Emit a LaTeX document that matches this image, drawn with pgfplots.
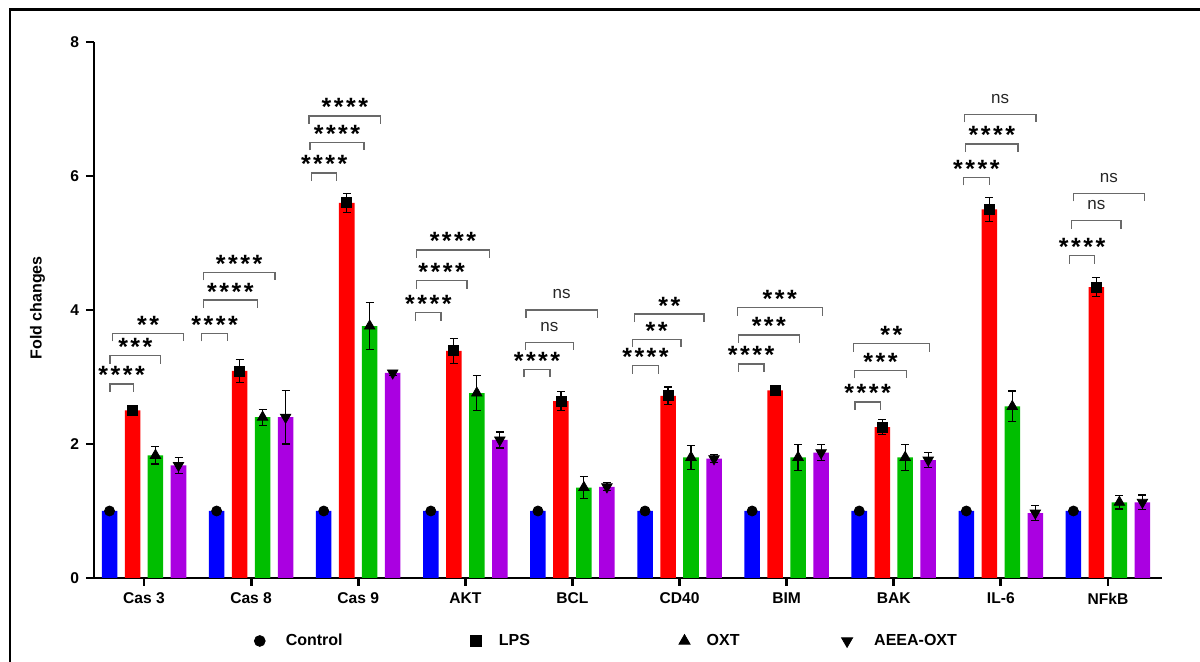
\documentclass[border=0pt]{standalone}
\usepackage{pgfplots}
\pgfplotsset{compat=1.18}
\usepackage{pgfplotstable}
\usepackage{fontspec}
\setmainfont{Liberation Sans}
\newfontfamily\starfamily[LetterSpace=10]{Liberation Sans}

\definecolor{cCtrl}{RGB}{0,0,255}
\definecolor{cLPS}{RGB}{255,0,0}
\definecolor{cOXT}{RGB}{0,190,0}
\definecolor{cAEEA}{RGB}{170,0,225}
\definecolor{brk}{RGB}{105,105,105}

% fold change (mean and error) per gene and group
\pgfplotstableread{
x ctrl lps  lpse oxt  oxte aeea aeeae
0 1    2.50 0.03 1.83 0.13 1.68 0.12
1 1    3.09 0.17 2.40 0.12 2.40 0.40
2 1    5.60 0.14 3.76 0.35 3.06 0.04
3 1    3.39 0.19 2.76 0.26 2.06 0.12
4 1    2.64 0.14 1.35 0.16 1.36 0.06
5 1    2.72 0.13 1.80 0.18 1.78 0.06
6 1    2.80 0.05 1.80 0.19 1.87 0.12
7 1    2.25 0.11 1.80 0.19 1.76 0.11
8 1    5.50 0.18 2.56 0.23 0.97 0.11
9 1    4.34 0.14 1.13 0.10 1.13 0.11
}\foldtab

\newcommand{\starfont}{\starfamily\fontsize{12.5}{13}\selectfont\bfseries}
\newcommand{\nsfont}{\fontsize{8.5}{9}\selectfont}

% significance bracket: from, to, height, stars
\newcommand{\sig}[4]{%
  \draw[brk, line width=0.6pt] (axis cs:#1,#3) ++(0pt,-4pt) -- (axis cs:#1,#3) -- (axis cs:#2,#3) -- ++(0pt,-4pt);
  \path (axis cs:#1,#3) -- node[midway, anchor=base, yshift=0pt, font=\starfont, inner sep=0pt] {#4} (axis cs:#2,#3);
}
% non-significant bracket: from, to, height
\newcommand{\nsb}[3]{%
  \draw[brk, line width=0.6pt] (axis cs:#1,#3) ++(0pt,-4pt) -- (axis cs:#1,#3) -- (axis cs:#2,#3) -- ++(0pt,-4pt);
  \path (axis cs:#1,#3) -- node[midway, anchor=base, yshift=5.6pt, font=\nsfont, inner sep=0pt, text=black!85] {ns} (axis cs:#2,#3);
}

\begin{document}
\begin{tikzpicture}
\begin{axis}[
  scale only axis, width=534pt, height=268pt,
  xmin=-0.467, xmax=9.505, ymin=0, ymax=8,
  axis x line*=bottom, axis y line*=left,
  axis line style={line width=1.4pt, black},
  xtick={0,...,9},
  xticklabels={Cas 3, Cas 8, Cas 9, AKT, BCL, CD40, BIM, BAK, IL-6, NFkB},
  ytick={0,2,4,6,8},
  tick style={line width=1.4pt, black},
  major tick length=4pt, tick align=outside,
  ticklabel style={font=\fontsize{7.8}{9}\selectfont\bfseries},
  /pgf/number format/assume math mode=true,
  ylabel={Fold changes},
  ylabel style={font=\fontsize{8}{10}\selectfont\bfseries, at={(axis description cs:-0.0529,0.504)}, anchor=center},
  clip=false,
  legend columns=4,
  legend cell align=left,
  legend image code/.code={\draw[#1] plot coordinates {(0pt,0pt)};},
  legend style={draw=none, fill=none, at={(axis description cs:0.1498,-0.1175)}, anchor=west,
    inner sep=0pt, column sep=0pt, nodes={inner sep=0pt}, font=\fontsize{8}{10}\selectfont\bfseries},
]

\addplot[ybar, bar width=0.145, bar shift=0pt, fill=cCtrl, draw=none, forget plot,
  mark=*, mark size=2.5pt, mark options={black, fill=black}]
  table[x expr=\thisrow{x}-0.322, y=ctrl] {\foldtab};

\addplot[ybar, bar width=0.145, bar shift=0pt, fill=cLPS, draw=none, forget plot,
  mark=square*, mark size=2.5pt, mark options={black, fill=black},
  error bars/.cd, y dir=both, y explicit,
  error bar style={black, line width=0.6pt},
  error mark options={black, rotate=90, mark size=2pt, line width=0.6pt}]
  table[x expr=\thisrow{x}-0.107, y=lps, y error=lpse] {\foldtab};

\addplot[ybar, bar width=0.145, bar shift=0pt, fill=cOXT, draw=none, forget plot,
  mark=triangle*, mark size=3pt, mark options={black, fill=black},
  error bars/.cd, y dir=both, y explicit,
  error bar style={black, line width=0.6pt},
  error mark options={black, rotate=90, mark size=2pt, line width=0.6pt}]
  table[x expr=\thisrow{x}+0.107, y=oxt, y error=oxte] {\foldtab};

\addplot[ybar, bar width=0.145, bar shift=0pt, fill=cAEEA, draw=none, forget plot,
  mark=triangle*, mark size=3pt, mark options={black, fill=black, rotate=180},
  error bars/.cd, y dir=both, y explicit,
  error bar style={black, line width=0.6pt},
  error mark options={black, rotate=90, mark size=2pt, line width=0.6pt}]
  table[x expr=\thisrow{x}+0.322, y=aeea, y error=aeeae] {\foldtab};

\addlegendimage{only marks, mark=*, mark size=2.7pt, black}
\addlegendentry{\hspace*{10.3pt}Control\hspace*{64pt}}
\addlegendimage{only marks, mark=square*, mark size=2.6pt, black}
\addlegendentry{\hspace*{8.9pt}LPS\hspace*{74.5pt}}
\addlegendimage{only marks, mark=triangle*, mark size=3.2pt, black}
\addlegendentry{\hspace*{8.3pt}OXT\hspace*{51pt}}
\addlegendimage{only marks, mark=triangle*, mark size=3.2pt, black, mark options={rotate=180}}
\addlegendentry{\hspace*{10.8pt}AEEA-OXT}

% Cas 3
\sig{-0.317}{-0.100}{2.896}{****}
\sig{-0.317}{0.156}{3.318}{***}
\sig{-0.292}{0.367}{3.652}{**}
% Cas 8
\sig{0.539}{0.781}{3.652}{****}
\sig{0.554}{1.058}{4.149}{****}
\sig{0.554}{1.223}{4.563}{****}
% Cas 9
\sig{1.566}{1.799}{6.045}{****}
\sig{1.550}{2.054}{6.503}{****}
\sig{1.541}{2.210}{6.896}{****}
% AKT
\sig{2.537}{2.773}{3.960}{****}
\sig{2.542}{3.016}{4.437}{****}
\sig{2.542}{3.228}{4.896}{****}
% BCL
\sig{3.548}{3.791}{3.115}{****}
\nsb{3.560}{4.008}{3.518}
\nsb{3.567}{4.233}{4.000}
% CD40
\sig{4.563}{4.802}{3.169}{****}
\sig{4.559}{5.014}{3.563}{**}
\sig{4.582}{5.229}{3.940}{**}
% BIM
\sig{5.549}{5.789}{3.194}{****}
\sig{5.549}{6.119}{3.627}{***}
\sig{5.540}{6.333}{4.034}{***}
% BAK
\sig{6.639}{6.875}{2.627}{****}
\sig{6.632}{7.121}{3.100}{***}
\sig{6.623}{7.332}{3.497}{**}
% IL-6
\sig{7.650}{7.893}{5.981}{****}
\sig{7.672}{8.161}{6.478}{****}
\nsb{7.659}{8.329}{6.921}
% NFkB
\sig{8.640}{8.877}{4.810}{****}
\nsb{8.662}{9.122}{5.333}
\nsb{8.677}{9.340}{5.742}
\end{axis}
% outer frame
\draw[line width=1.2pt] (-42pt,-42pt) -- (-42pt,284.25pt) -- (553pt,284.25pt);
\pgfresetboundingbox
\path[use as bounding box] (-47pt,-42pt) rectangle (553pt,289pt);
\end{tikzpicture}
\end{document}
